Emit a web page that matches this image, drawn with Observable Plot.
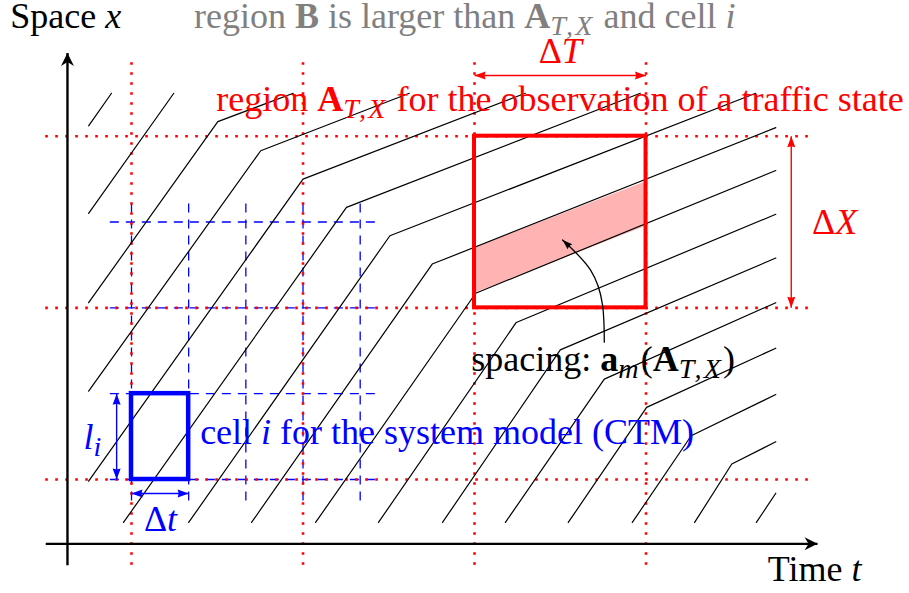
<!DOCTYPE html>
<html><head><meta charset="utf-8">
<script src="https://cdn.jsdelivr.net/npm/d3@7"></script>
<script src="https://cdn.jsdelivr.net/npm/@observablehq/plot@0.6"></script>
<style>html,body{margin:0;padding:0;background:#fff}</style>
</head><body><div id="chart"></div>
<script>
// ---- data (diagram units: t in cell time-steps, x in cell lengths) ----
// vehicle trajectories: start, kink (shock wave), end
const trajId     = [-2, -1, 0, 1, 2, 3, 4, 5, 6, 7, 8, 9, 10, 11, 12, 13];
const trajStartT = [-0.75, -0.75, -0.75, -0.75, -0.75, -0.14, 1.00, 2.10, 3.22, 4.32, 5.44, 6.54, 7.64, 8.76, 9.85, 10.93];
const trajStartX = [4.12, 3.10, 2.06, 1.03, -0.02, -0.50, -0.50, -0.50, -0.50, -0.50, -0.50, -0.50, -0.50, -0.50, -0.50, -0.50];
const trajKinkT  = [null, null, 1.51, 2.26, 3.00, 3.76, 4.52, 5.26, 6.02, 6.73, 7.50, 8.27, 9.01, 9.79, 10.50, null];
const trajKinkX  = [null, null, 4.17, 3.83, 3.50, 3.17, 2.84, 2.51, 2.17, 1.83, 1.51, 1.17, 0.84, 0.51, 0.18, null];
const trajEndT   = [-0.35, 0.74, 2.83, 4.86, 6.89, 8.90, 10.92, 11.27, 11.27, 11.27, 11.27, 11.27, 11.27, 11.27, 11.27, 11.27];
const trajEndX   = [4.50, 4.50, 4.50, 4.50, 4.50, 4.50, 4.50, 4.10, 3.60, 3.09, 2.58, 2.06, 1.53, 0.99, 0.44, -0.16];

// observation region grid (red) and CTM cell grid (blue)
const regionGridT = [0, 3, 6, 9];
const regionGridX = [0, 2, 4];
const cellGridT = [0, 1, 2, 3, 4];
const cellGridX = [0, 1, 2, 3];
const cellT = [0, 1];
const cellX = [0, 1];
const regionT = [6, 9];
const regionX = [2, 4];

// shaded spacing band between two trajectories inside region A
const bandT = [6, 9];
const bandLow = [2.17, 2.95];
const bandHigh = [2.70, 3.47];

// curved pointer from the "spacing" label to the band
const pointerT = [8.27, 8.24, 8.03, 7.54];
const pointerX = [1.60, 2.03, 2.44, 2.79];

// labels
const labels = {
  space: "Space {i:x}",
  regionB: "region {b:B} is larger than {b:A}{s:T,X} and cell {i:i}",
  regionA: "region {b:A}{s:T,X} for the observation of a traffic state",
  dT: "Δ{i:T}",
  dX: "Δ{i:X}",
  spacing: "spacing: {b:a}{s:m}({b:A}{s:T,X})",
  cell: "cell {i:i} for the system model (CTM)",
  li: "{i:l}{s:i}",
  dt: "Δ{i:t}",
  time: "Time {i:t}"
};

// ---- helpers ----
function head(L, W, notch) {
  return (color, context) => {
    const ns = "http://www.w3.org/2000/svg";
    const doc = (context && context.document) || document;
    const m = doc.createElementNS(ns, "marker");
    m.setAttribute("viewBox", `${-L - 1} ${-W / 2 - 1} ${L + 2} ${W + 2}`);
    m.setAttribute("markerWidth", L + 2);
    m.setAttribute("markerHeight", W + 2);
    m.setAttribute("markerUnits", "userSpaceOnUse");
    m.setAttribute("refX", 0);
    m.setAttribute("refY", 0);
    m.setAttribute("orient", "auto-start-reverse");
    const p = doc.createElementNS(ns, "path");
    p.setAttribute("d", `M0,0L${-L},${-W / 2}L${-L + notch},0L${-L},${W / 2}Z`);
    p.setAttribute("fill", color);
    p.setAttribute("stroke", "none");
    m.appendChild(p);
    return m;
  };
}
const axisHead = head(13, 13, 4);
const measHead = head(11, 8, 1);
const ptrHead = head(10, 7, 1);

const trajPoints = trajId.flatMap((id, k) => {
  const pts = [{id, t: trajStartT[k], x: trajStartX[k]}];
  if (trajKinkT[k] != null) pts.push({id, t: trajKinkT[k], x: trajKinkX[k]});
  pts.push({id, t: trajEndT[k], x: trajEndX[k]});
  return pts;
});
const band = bandT.map((t, i) => ({t, lo: bandLow[i], hi: bandHigh[i]}));
const pointer = pointerT.map((t, i) => ({t, x: pointerX[i]}));

const FS = 36;
const serif = "Liberation Serif";
const txt = (s, t, x, color, opts = {}) =>
  Plot.text([s], {x: t, y: x, text: d => d, fill: color, fontSize: FS, fontFamily: serif, textAnchor: "middle", lineAnchor: "middle", ...opts});

const dotted = {stroke: "red", strokeWidth: 2.6, strokeDasharray: "2.6,7.4"};
const dashed = {stroke: "blue", strokeWidth: 1.3, strokeDasharray: "9,7"};

const chart = Plot.plot({
  width: 909,
  height: 593,
  margin: 0,
  x: {domain: [-2.2914, 13.6085], range: [0, 909], axis: null},
  y: {domain: [-1.3282, 5.5808], range: [593, 0], axis: null},
  style: {background: "white", fontFamily: serif, overflow: "visible"},
  marks: [
    Plot.areaY(band, {x: "t", y1: "lo", y2: "hi", fill: "#ffb3b3"}),
    Plot.ruleX(cellGridT, {x: d => d, y1: -0.25, y2: 3.25, ...dashed}),
    Plot.ruleY(cellGridX, {y: d => d, x1: -0.37, x2: 4.29, ...dashed}),
    Plot.ruleX(regionGridT, {x: d => d, y1: -1.0, y2: 4.94, ...dotted}),
    Plot.ruleY(regionGridX, {y: d => d, x1: -1.5, x2: 11.91, ...dotted}),
    Plot.line(trajPoints, {x: "t", y: "x", z: "id", stroke: "black", strokeWidth: 1.2}),
    // axes
    Plot.link([0], {x1: -1.5, y1: -0.75, x2: 12.0, y2: -0.75, stroke: "black", strokeWidth: 2.4, markerEnd: axisHead}),
    Plot.link([0], {x1: -1.12, y1: -1.0, x2: -1.12, y2: 4.97, stroke: "black", strokeWidth: 2.4, markerEnd: axisHead}),
    // region A and cell i
    Plot.rect([0], {x1: regionT[0], x2: regionT[1], y1: regionX[0], y2: regionX[1], fill: "none", stroke: "red", strokeWidth: 4}),
    Plot.rect([0], {x1: cellT[0], x2: cellT[1], y1: cellX[0], y2: cellX[1], fill: "none", stroke: "blue", strokeWidth: 4.5}),
    // dimension arrows
    Plot.link([0], {x1: regionT[0], x2: regionT[1], y1: 4.707, y2: 4.707, stroke: "red", strokeWidth: 1.4, markerStart: measHead, markerEnd: measHead}),
    Plot.link([0], {x1: 11.54, x2: 11.54, y1: regionX[0], y2: regionX[1], stroke: "red", strokeWidth: 1.4, markerStart: measHead, markerEnd: measHead}),
    Plot.link([0], {x1: -0.26, x2: -0.26, y1: cellX[0], y2: cellX[1], stroke: "blue", strokeWidth: 1.4, markerStart: measHead, markerEnd: measHead}),
    Plot.link([0], {x1: cellT[0], x2: cellT[1], y1: -0.163, y2: -0.163, stroke: "blue", strokeWidth: 1.4, markerStart: measHead, markerEnd: measHead}),
    // pointer
    Plot.line(pointer, {x: "t", y: "x", curve: "natural", stroke: "black", strokeWidth: 1.3, markerEnd: ptrHead}),
    // texts
    txt(labels.space, -2.12, 5.40, "black", {textAnchor: "start"}),
    txt(labels.regionB, 5.83, 5.40, "#808080"),
    txt(labels.regionA, 7.495, 4.433, "red"),
    txt(labels.dT, 7.50, 4.992, "red"),
    txt(labels.dX, 12.30, 3.00, "red"),
    txt(labels.spacing, 8.25, 1.404, "black"),
    txt(labels.cell, 5.52, 0.553, "blue"),
    txt(labels.li, -0.665, 0.495, "blue"),
    txt(labels.dt, 0.507, -0.460, "blue"),
    txt(labels.time, 11.95, -1.043, "black")
  ]
});
document.getElementById("chart").appendChild(chart);

// rich text: italic, bold, subscripts
function richify(el) {
  const src = el.textContent;
  if (!src.includes("{")) return;
  const fs = parseFloat(getComputedStyle(el).fontSize) || FS;
  const ns = "http://www.w3.org/2000/svg";
  const parts = [];
  const re = /\{(\w):([^}]*)\}/g;
  let last = 0, m;
  while ((m = re.exec(src))) {
    if (m.index > last) parts.push(["r", src.slice(last, m.index)]);
    parts.push([m[1], m[2]]);
    last = re.lastIndex;
  }
  if (last < src.length) parts.push(["r", src.slice(last)]);
  while (el.firstChild) el.removeChild(el.firstChild);
  let shifted = 0;
  for (const [style, s] of parts) {
    const ts = document.createElementNS(ns, "tspan");
    ts.textContent = s;
    if (style === "i") ts.setAttribute("font-style", "italic");
    if (style === "b") ts.setAttribute("font-weight", "bold");
    if (style === "s") {
      ts.setAttribute("font-style", "italic");
      ts.setAttribute("font-size", (fs * 0.78).toFixed(1));
      ts.setAttribute("letter-spacing", (fs * 0.06).toFixed(1));
      const d = fs * 0.2 - shifted;
      if (d) ts.setAttribute("dy", d.toFixed(1));
      shifted = fs * 0.2;
    } else if (shifted) {
      ts.setAttribute("dy", (-shifted).toFixed(1));
      shifted = 0;
    }
    el.appendChild(ts);
  }
}
chart.querySelectorAll("text").forEach(richify);
</script>
</body></html>
